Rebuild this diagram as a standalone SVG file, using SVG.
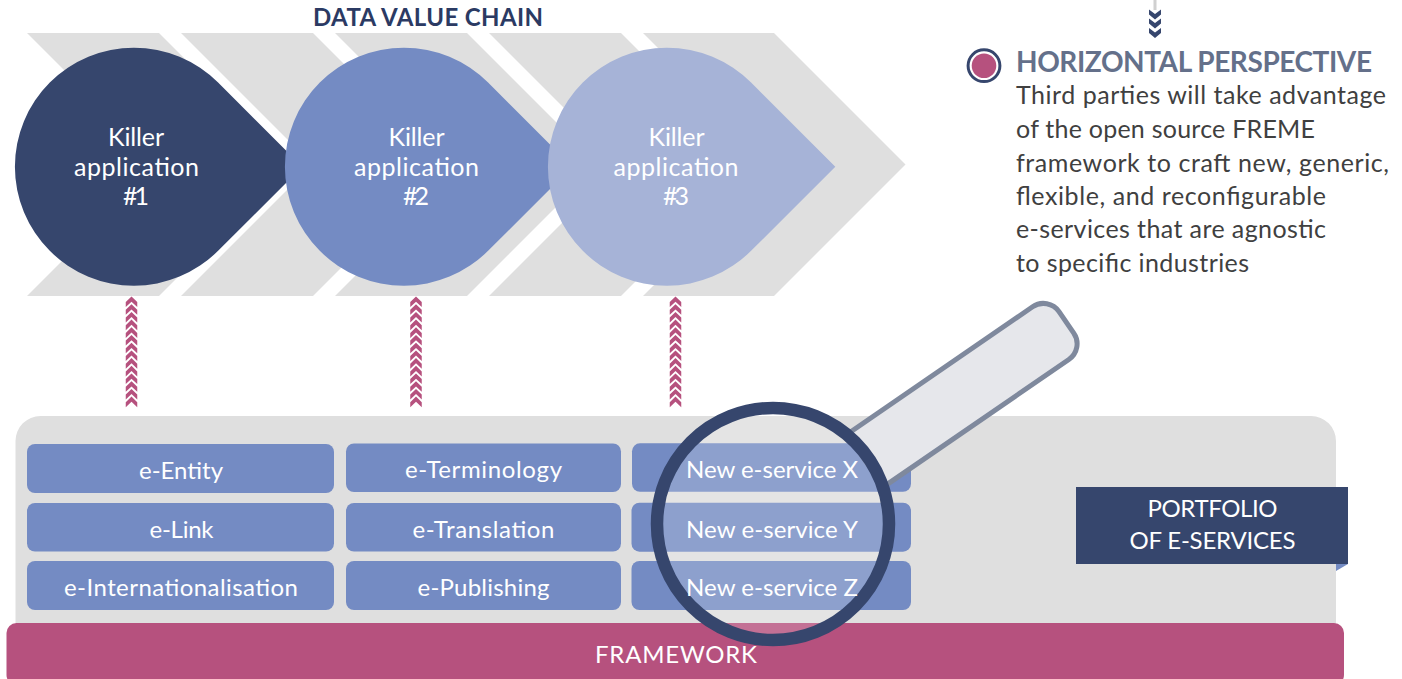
<svg xmlns="http://www.w3.org/2000/svg" xmlns:xlink="http://www.w3.org/1999/xlink" width="1402" height="679" viewBox="0 0 1402 679">
<style>
text{font-family:"Lato","Liberation Sans",sans-serif}
.w{fill:#fff;text-anchor:middle}
.k{font-size:25px}
.s{font-size:24px}
.b{font-size:24px}
.body{font-size:25px;fill:#404040}
.svc{fill:#748bc3}
.chev{fill:#dfdfdf}
</style>
<defs>
<path id="c" d="M-5.75 5.600L0 0L5.750 5.600V10.600L0 5.200L-5.750 10.600Z" fill="#b6517e"/>
<path id="d" d="M-6 0L0 4.600L6 0V5L0 10L-6 5Z" fill="#36466d"/>
<g id="stack">
<use href="#c" y="0"/><use href="#c" y="7.7"/><use href="#c" y="15.4"/><use href="#c" y="23.1"/><use href="#c" y="30.8"/><use href="#c" y="38.5"/><use href="#c" y="46.2"/><use href="#c" y="53.9"/><use href="#c" y="61.6"/><use href="#c" y="69.3"/><use href="#c" y="77"/><use href="#c" y="84.7"/><use href="#c" y="92.4"/><use href="#c" y="100.1"/>
</g>
<path id="drop" d="M168.3 0L84.1 -84.1A119 119 0 1 0 84.1 84.1Z"/>
</defs>
<rect width="1402" height="679" fill="#fff"/>
<g id="value-chain">
<text x="428" y="26" text-anchor="middle" font-size="24" font-weight="700" fill="#2b3a63" textLength="230">DATA VALUE CHAIN</text>
<path class="chev" d="M27 33H159L290.500 164.500L159 296H27L158.500 164.500Z"/>
<path class="chev" d="M181 33H313L444.500 164.500L313 296H181L312.500 164.500Z"/>
<path class="chev" d="M335 33H467L598.500 164.500L467 296H335L466.500 164.500Z"/>
<path class="chev" d="M489 33H621L752.500 164.500L621 296H489L620.500 164.500Z"/>
<path class="chev" d="M643 33H774L905.500 164.500L774 296H643L774.500 164.500Z"/>
</g>
<g id="killer-1"><use href="#drop" transform="translate(134 166.700)" fill="#36466d"/>
<text class="w k" x="136" y="146" textLength="56">Killer</text><text class="w k" x="136.500" y="176" textLength="125">application</text><text class="w k" x="136" y="205" textLength="26">#1</text></g>
<g id="killer-2"><use href="#drop" transform="translate(404 166.700)" fill="#748bc3"/>
<text class="w k" x="416.500" y="146" textLength="56">Killer</text><text class="w k" x="416.500" y="176" textLength="125">application</text><text class="w k" x="416" y="205" textLength="26">#2</text></g>
<g id="killer-3"><use href="#drop" transform="translate(667 166.700)" fill="#a6b3d7"/>
<text class="w k" x="676.500" y="146" textLength="56">Killer</text><text class="w k" x="676" y="176" textLength="125">application</text><text class="w k" x="676" y="205" textLength="26">#3</text></g>
<g id="connectors">
<use href="#stack" x="131.500" y="296.500"/>
<use href="#stack" x="416" y="296.500"/>
<use href="#stack" x="675.500" y="296.500"/>
<rect x="1153.500" y="0" width="3" height="10" fill="#d0d0d0"/>
<use href="#d" x="1155" y="9.500"/><use href="#d" x="1155" y="18.500"/><use href="#d" x="1155" y="28"/>
</g>
<g id="horizontal-perspective">
<circle cx="984" cy="65.700" r="15.900" fill="#fff" stroke="#36466d" stroke-width="3"/>
<circle cx="984" cy="65.700" r="12.300" fill="#b6517e"/>
<text x="1016" y="71.500" font-size="28" font-weight="700" fill="#64708a" textLength="356">HORIZONTAL PERSPECTIVE</text>
<text class="body" x="1016" y="104" textLength="370">Third parties will take advantage</text>
<text class="body" x="1016" y="138" textLength="299">of the open source FREME</text>
<text class="body" x="1016" y="171.500" textLength="373">framework to craft new, generic,</text>
<text class="body" x="1016" y="205" textLength="310">flexible, and reconfigurable</text>
<text class="body" x="1016" y="238" textLength="310">e-services that are agnostic</text>
<text class="body" x="1016" y="272" textLength="233">to specific industries</text>
</g>
<g id="portfolio-panel"><path d="M15.500 640V441A25 25 0 0 1 40.500 416H1311A25 25 0 0 1 1336 441V640Z" fill="#dfdfdf"/></g>
<g id="framework"><rect x="6.500" y="623" width="1337.500" height="62" rx="10" fill="#b6517e"/>
<text class="w s" x="676" y="663" textLength="162">FRAMEWORK</text></g>
<g id="e-entity"><rect class="svc" x="27" y="444" width="307" height="49" rx="8"/><text class="w s" x="181" y="479" textLength="84">e-Entity</text></g>
<g id="e-link"><rect class="svc" x="27" y="503" width="307" height="48.500" rx="8"/><text class="w s" x="181.500" y="538" textLength="64">e-Link</text></g>
<g id="e-internationalisation"><rect class="svc" x="27" y="561" width="307" height="49" rx="8"/><text class="w s" x="181" y="596" textLength="234">e-Internationalisation</text></g>
<g id="e-terminology"><rect class="svc" x="346" y="443.500" width="275" height="48.500" rx="8"/><text class="w s" x="483.500" y="478" textLength="157">e-Terminology</text></g>
<g id="e-translation"><rect class="svc" x="346" y="503" width="275" height="48.500" rx="8"/><text class="w s" x="483.500" y="538" textLength="142">e-Translation</text></g>
<g id="e-publishing"><rect class="svc" x="346" y="561" width="275" height="49" rx="8"/><text class="w s" x="483.500" y="596" textLength="132">e-Publishing</text></g>
<g id="service-x"><rect class="svc" x="632" y="443.300" width="279" height="48.500" rx="8"/></g>
<g id="service-y"><rect class="svc" x="631.500" y="502.700" width="279.500" height="49" rx="8"/></g>
<g id="service-z"><rect class="svc" x="631.500" y="561" width="279.500" height="49" rx="8"/></g>
<g id="magnifier">
<path d="M112 -32H337A19 19 0 0 1 356 -13V13A19 19 0 0 1 337 32H112Z" transform="translate(773 524) rotate(-34.500)" fill="#e6e7eb" stroke="#7f899d" stroke-width="5"/>
<circle cx="773" cy="524" r="116" fill="#fff" fill-opacity="0.18" stroke="#36466d" stroke-width="12.500"/>
<text class="w s" x="772" y="478" textLength="172">New e-service X</text>
<text class="w s" x="772" y="538" textLength="172">New e-service Y</text>
<text class="w s" x="772" y="596" textLength="172">New e-service Z</text>
</g>
<g id="portfolio-label">
<path d="M1336 564H1348L1336 571Z" fill="#748bc3"/>
<rect x="1076" y="487" width="272" height="77" fill="#36466d"/>
<text class="w b" x="1212.500" y="516.500" textLength="130">PORTFOLIO</text>
<text class="w b" x="1212.500" y="548.500" textLength="166">OF E-SERVICES</text>
</g>
</svg>
